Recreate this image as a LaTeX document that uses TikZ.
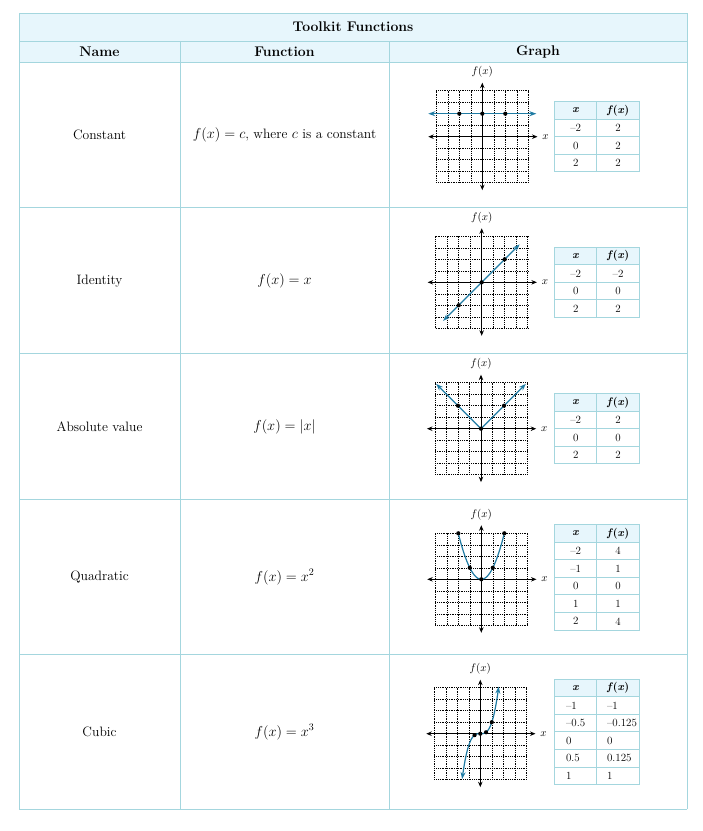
\documentclass[tikz,border=0pt]{standalone}
\usepackage{tikz}
\usetikzlibrary{arrows.meta,positioning}
\definecolor{tablerule}{HTML}{A4D6DE}
\definecolor{headblue}{HTML}{E7F6FC}
\definecolor{curveblue}{HTML}{1F7BA3}

\begin{document}
\begin{tikzpicture}
[x=1pt,y=-1pt,
rule/.style={draw=tablerule,line width=1pt},
big/.style={font=\fontsize{13.6}{16}\selectfont},
bighead/.style={font=\fontsize{14}{16}\selectfont\bfseries},
small/.style={font=\fontsize{11}{13}\selectfont},
gridline/.style={line width=0.6pt,dash pattern=on 0.9pt off 0.9pt},
axis/.style={line width=0.9pt,{Stealth[length=5.5pt,width=4.5pt]}-{Stealth[length=5.5pt,width=4.5pt]}},
curve/.style={curveblue,line width=1.2pt},
tip/.style={{Stealth[length=7pt,width=5pt]}-{Stealth[length=7pt,width=5pt]}},
dot/.style={circle,fill=black,inner sep=0pt,minimum size=4.2pt}]
\useasboundingbox (0,0) rectangle (703,831);
% outer table
\fill[headblue] (19,13) rectangle (687,62);
\foreach \y in {13,41,62,207,353,499,654,809}
\draw[rule] (19,\y) -- (687,\y);
\draw[rule] (19,13) -- (19,809);
\draw[rule] (687,13) -- (687,809);
\draw[rule] (180,41) -- (180,809);
\draw[rule] (389,41) -- (389,809);
\node[bighead] (title) at (353,27) {Toolkit Functions};
\node[bighead] (hname) at (99.5,51.5) {Name};
\node[bighead] (hfunc) at (284.5,51.5) {Function};
\node[bighead] (hgraph) at (538,51.5) {Graph};
\node[big] (ncon) at (99.5,135) {Constant};
\node[big] (fcon) at (284.5,135) {$f(x)=c$, where $c$ is a constant};
\node[big] (nidn) at (99.5,281) {Identity};
\node[big] (fidn) at (284.5,281) {$f(x)=x$};
\node[big] (nabs) at (99.5,427) {Absolute value};
\node[big] (fabs) at (284.5,427) {$f(x)=|x|$};
\node[big] (nqua) at (99.5,577) {Quadratic};
\node[big] (fqua) at (284.5,577) {$f(x)=x^2$};
\node[big] (ncub) at (99.5,732) {Cubic};
\node[big] (fcub) at (284.5,732) {$f(x)=x^3$};
% grids and axes
\foreach \g/\gx/\gy in {con/482.3/136.7,idn/481.7/282.3,abs/481/428.7,qua/481.3/579.3,cub/480.3/733.7}{
\coordinate (o\g) at (\gx,\gy);
\begin{scope}[shift={(o\g)},x=11.5pt,y=11.5pt]
\draw[gridline,step=1] (-4,-4) grid (4,4);
\draw[axis] (-4.7,0) -- (4.8,0);
\draw[axis] (0,-4.65) -- (0,4.7);
\node[small] (fx\g) at (0,5.65) {$f(x)$};
\node[small] (xl\g) at (5.5,0) {$x$};
\end{scope}
}
% value tables
\foreach \t/\tx/\ty/\rows/\pa/\pb/\al in {
con/554.5/101.5/{\textendash2/2,0/2,2/2}/21.2/63.6/center,
idn/554.5/247.1/{\textendash2/\textendash2,0/0,2/2}/21.2/63.6/center,
abs/554.5/393.5/{\textendash2/2,0/0,2/2}/21.2/63.6/center,
qua/554.5/524.5/{\textendash2/4,\textendash1/1,0/0,1/1,2/4}/21.2/63.6/center,
cub/554.5/679/{\textendash1/\textendash1,\textendash0.5/\textendash0.125,0/0,0.5/0.125,1/1}/8/49/west}{
\begin{scope}[shift={(\tx,\ty)}]
\fill[headblue] (0,0) rectangle (84.8,17.6);
\draw[rule] (0,0) rectangle (42.4,17.6) (42.4,0) rectangle (84.8,17.6);
\node[small] (hx\t) at (21.2,8.8) {\textbf{\textit{x}}};
\node[small] (hf\t) at (63.6,8.8) {\textbf{\textit{f}(\textit{x})}};
\foreach \a/\b [count=\r] in \rows {
\draw[rule] (0,\r*17.6) rectangle (42.4,\r*17.6+17.6) (42.4,\r*17.6) rectangle (84.8,\r*17.6+17.6);
\node[small,anchor=\al] (a\t\r) at (\pa,\r*17.6+8.8) {\a};
\node[small,anchor=\al] (b\t\r) at (\pb,\r*17.6+8.8) {\b};
}
\end{scope}
}
% constant
\begin{scope}[shift={(ocon)},x=11.5pt,y=11.5pt]
\draw[curve,tip] (-4.7,2) -- (4.7,2);
\foreach \p [count=\k] in {-2,0,2} \node[dot] (dcon\k) at (\p,2) {};
\end{scope}
% identity
\begin{scope}[shift={(oidn)},x=11.5pt,y=11.5pt]
\draw[curve,tip] (-3.35,-3.35) -- (3.3,3.3);
\foreach \p [count=\k] in {-2,0,2} \node[dot] (didn\k) at (\p,\p) {};
\end{scope}
% absolute value
\begin{scope}[shift={(oabs)},x=11.5pt,y=11.5pt]
\draw[curve,tip] (-3.9,3.9) -- (0,0) -- (3.9,3.9);
\foreach \p [count=\k] in {-2,0,2} \node[dot] (dabs\k) at (\p,{abs(\p)}) {};
\end{scope}
% quadratic
\begin{scope}[shift={(oqua)},x=11.5pt,y=11.5pt]
\draw[curve] plot[domain=-2:2,samples=60,smooth] (\x,{\x*\x});
\foreach \p [count=\k] in {-2,-1,0,1,2} \node[dot] (dqua\k) at (\p,{\p*\p}) {};
\end{scope}
% cubic
\begin{scope}[shift={(ocub)},x=11.5pt,y=11.5pt]
\draw[curve,tip] plot[domain=-1.58:1.6,samples=60,smooth] (\x,{\x*\x*\x});
\foreach \p [count=\k] in {-0.5,0,0.5,1} \node[dot] (dcub\k) at (\p,{\p*\p*\p}) {};
\end{scope}
\end{tikzpicture}
\end{document}
